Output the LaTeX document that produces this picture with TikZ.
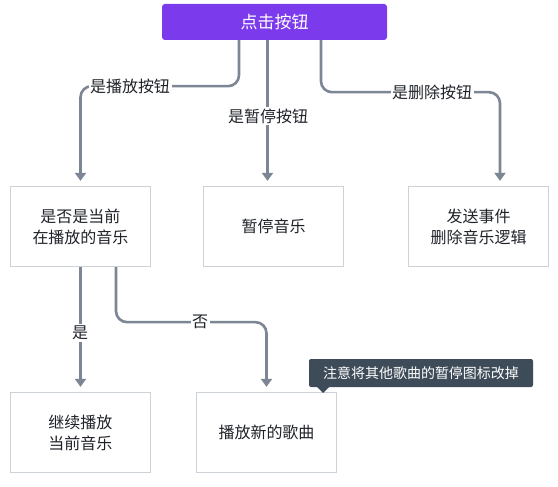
\documentclass[tikz,border=0pt]{standalone}
\usepackage{fontspec}
\setmainfont{Noto Sans CJK SC}
\usetikzlibrary{arrows.meta}
\definecolor{btnpurple}{HTML}{7C3AED}
\definecolor{conn}{HTML}{7D8694}
\definecolor{boxline}{HTML}{CDD1D8}
\definecolor{tipbg}{HTML}{3E4B58}
\definecolor{txt}{HTML}{1F2329}
\begin{document}
\begin{tikzpicture}[x=1pt,y=-1pt,
  box/.style={draw=boxline,line width=1.3pt,fill=white,minimum width=140pt,minimum height=80pt,inner sep=0pt,align=center,text=txt,font=\fontsize{16}{21}\selectfont},
  link/.style={draw=conn,line width=2.6pt,rounded corners=11pt,shorten >=5pt,-{Triangle[width=11pt,length=8pt]}},
  lbl/.style={fill=white,inner sep=1.5pt,text=txt,font=\fontsize{16}{20}\selectfont}]
\useasboundingbox (0,0) rectangle (558,487);
\fill[white] (0,0) rectangle (558,487);
% top button
\node[fill=btnpurple,rounded corners=3pt,minimum width=225pt,minimum height=36pt,inner sep=0pt,text=white,font=\fontsize{17}{20}\selectfont] (btn) at (274.5,22) {点击按钮};
% boxes
\node[box] (boxA) at (80.5,226.5) {是否是当前\\在播放的音乐};
\node[box] (boxB) at (273.5,226.5) {暂停音乐};
\node[box] (boxC) at (478.5,226.5) {发送事件\\删除音乐逻辑};
\node[box] (boxD) at (80.5,432.5) {继续播放\\当前音乐};
\node[box] (boxE) at (266.5,432.5) {播放新的歌曲};
% connectors
\draw[link] ([xshift=-35.5pt]btn.south) -- ++(0,46) -| (boxA.north);
\draw[link] ([xshift=-7pt]btn.south) -- ([xshift=-7pt]btn.south |- boxB.north);
\draw[link] ([xshift=46.5pt]btn.south) -- ++(0,52) -| ([xshift=21.5pt]boxC.north);
\draw[link] (boxA.south) -- (boxD.north);
\draw[link] ([xshift=35.5pt]boxA.south) -- ++(0,55) -| (boxE.north);
% labels
\node[lbl] (l1) at (130,86) {是播放按钮};
\node[lbl] (l2) at (268,116) {是暂停按钮};
\node[lbl] (l3) at (432,92) {是删除按钮};
\node[lbl] (l4) at (80,333) {是};
\node[lbl] (l5) at (200,322) {否};
% tooltip
\fill[tipbg,rounded corners=2pt] (309,359) rectangle (533,387);
\fill[tipbg] (316,386) -- (323,393) -- (330,386) -- cycle;
\node[text=white,font=\fontsize{14}{16}\selectfont] (tip) at (421,373) {注意将其他歌曲的暂停图标改掉};
\end{tikzpicture}
\end{document}
